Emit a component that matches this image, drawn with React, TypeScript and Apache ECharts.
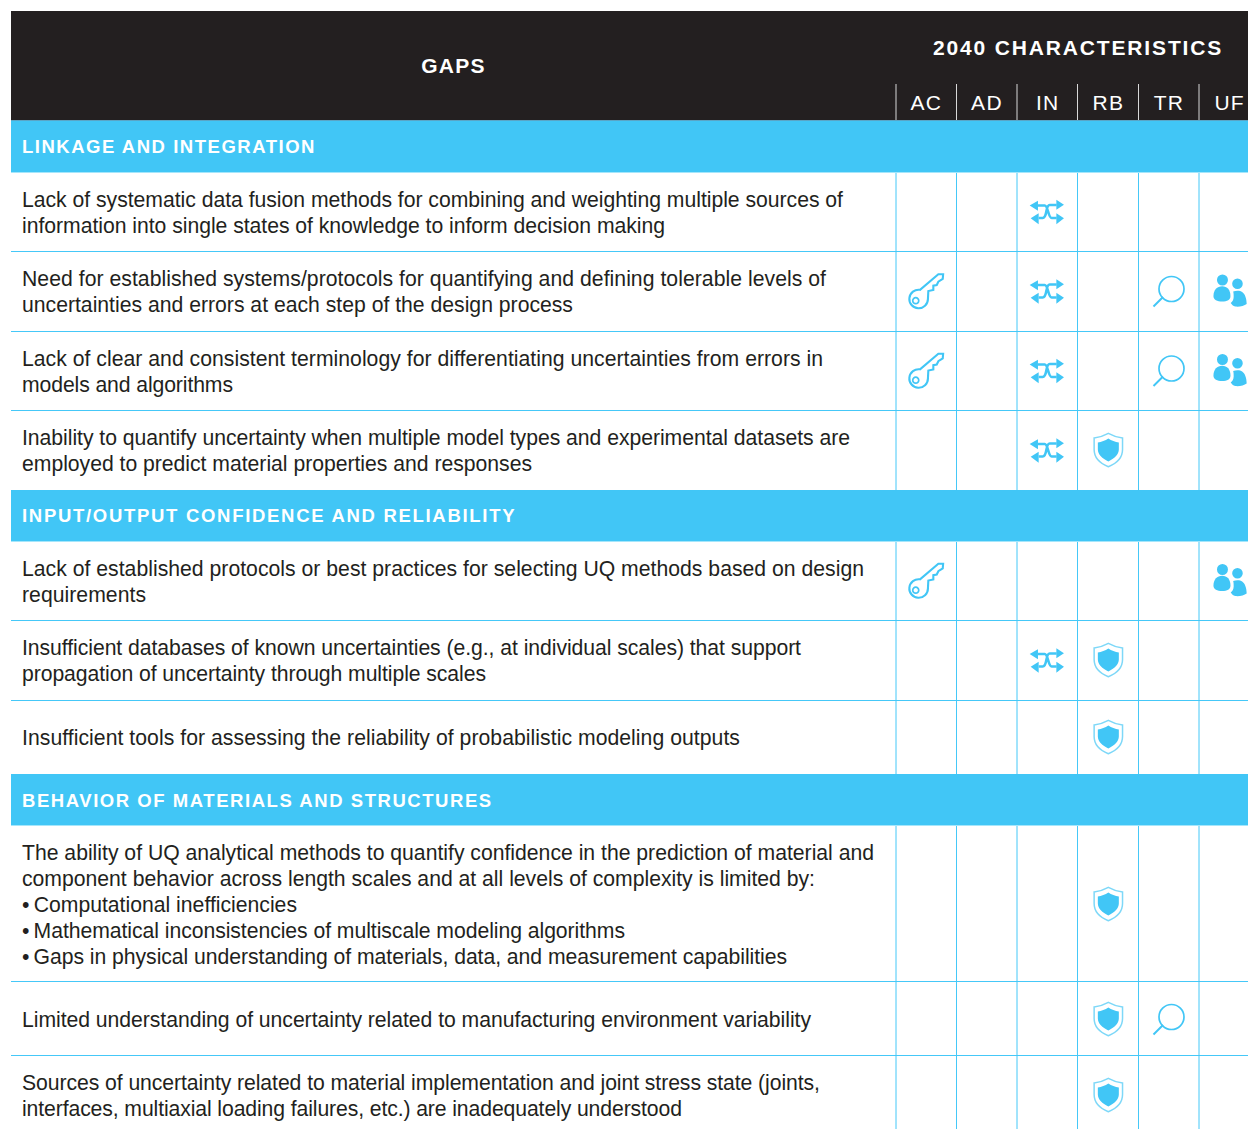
import React, { useEffect, useRef } from "react";
import * as echarts from "echarts";

const CHARACTERISTICS = ["AC", "AD", "IN", "RB", "TR", "UF"];
const HEADER_LEFT = "GAPS";
const HEADER_RIGHT = "2040 CHARACTERISTICS";

const SECTION_1 = "LINKAGE AND INTEGRATION";
const SECTION_2 = "INPUT/OUTPUT CONFIDENCE AND RELIABILITY";
const SECTION_3 = "BEHAVIOR OF MATERIALS AND STRUCTURES";

// each row: text lines, and the characteristics it is marked with
const ROWS_1 = [
  { lines: ["Lack of systematic data fusion methods for combining and weighting multiple sources of", "information into single states of knowledge to inform decision making"], marks: ["IN"] },
  { lines: ["Need for established systems/protocols for quantifying and defining tolerable levels of", "uncertainties and errors at each step of the design process"], marks: ["AC", "IN", "TR", "UF"] },
  { lines: ["Lack of clear and consistent terminology for differentiating uncertainties from errors in", "models and algorithms"], marks: ["AC", "IN", "TR", "UF"] },
  { lines: ["Inability to quantify uncertainty when multiple model types and experimental datasets are", "employed to predict material properties and responses"], marks: ["IN", "RB"] },
];
const ROWS_2 = [
  { lines: ["Lack of established protocols or best practices for selecting UQ methods based on design", "requirements"], marks: ["AC", "UF"] },
  { lines: ["Insufficient databases of known uncertainties (e.g., at individual scales) that support", "propagation of uncertainty through multiple scales"], marks: ["IN", "RB"] },
  { lines: ["Insufficient tools for assessing the reliability of probabilistic modeling outputs"], marks: ["RB"] },
];
const ROWS_3 = [
  { lines: ["The ability of UQ analytical methods to quantify confidence in the prediction of material and", "component behavior across length scales and at all levels of complexity is limited by:", "•\u2009Computational inefficiencies", "•\u2009Mathematical inconsistencies of multiscale modeling algorithms", "•\u2009Gaps in physical understanding of materials, data, and measurement capabilities"], marks: ["RB"] },
  { lines: ["Limited understanding of uncertainty related to manufacturing environment variability"], marks: ["RB", "TR"] },
  { lines: ["Sources of uncertainty related to material implementation and joint stress state (joints,", "interfaces, multiaxial loading failures, etc.) are inadequately understood"], marks: ["RB"] },
];

// layout (pixels)
const W = 1248, H = 1129;
const LEFT = 11, TOP = 11, HEADER_BOTTOM = 120;
const GRID_LEFT = 896, COL_W = 60.67, TEXT_X = 22, LINE_H = 26;
const COLUMN_LINES = [896, 956.5, 1017, 1077.5, 1138.5, 1199];
const CHART_W = GRID_LEFT + COL_W * CHARACTERISTICS.length;
const SECTION_HEIGHTS = [52, 51, 51];
const SECTION_TEXT_Y = [26, 25, 26];
const HEIGHTS_1 = [79, 80, 79, 80];
const HEIGHTS_2 = [79, 80, 74];
const HEIGHTS_3 = [156, 74, 80];
const TEXT_NUDGE = [1, 0, 1, 0, 1, 0, 0, 1, 1, 0];
const ICON_NUDGE = [0, 0, 0, 0, 0, 0, 0, 1, 1, 0];
// right edge of each body line, in reading order, for its tracking
const LINE_RIGHT = [843, 665, 826, 573, 823, 233, 850, 532, 864, 146, 801, 486, 740, 874, 815, 297, 625, 787, 811, 820, 682];
const INK = "#231f20", BLUE = "#41c6f6", LINE = "#45c8f8";
const BODY_FONT = "Liberation Sans";
const BODY_SIZE = 21.2;

const ICON_KIND: Record<string, string> = { AC: "key", IN: "shuffle", RB: "shield", TR: "lens", UF: "people" };

type Part = { d: string; fill?: string; stroke?: string; lw?: number };
const ICONS: Record<string, { w: number; h: number; parts: Part[] }> = {
  key: {
    w: 34, h: 36,
    parts: [
      { d: "M29 1.3 L33.8 1.3 L33.4 6 L29 8.7 L27.4 12 L24 12.7 L24 17 L19 18 L18.6 26 A9.3 9.3 0 1 1 10.7 16.8 Z", stroke: BLUE, lw: 2.1, fill: "none" },
      { d: "M9.4 27.7 A3 3 0 1 1 3.4 27.7 A3 3 0 1 1 9.4 27.7 Z", stroke: BLUE, lw: 1.7, fill: "none" },
    ],
  },
  shuffle: {
    w: 36, h: 22,
    parts: [
      { d: "M8 5 L15 5 C18.5 5 18.5 17.5 22 17.5 L27 17.5 M27 4.5 L20 4.5 C15.5 4.5 18 17.5 13 17.5 L9 17.5", stroke: BLUE, lw: 2.6, fill: "none" },
      { d: "M0 5 L8.3 0.3 L8.3 10.3 Z M34.3 4.3 L26.7 -0.7 L26.7 9.3 Z M1 17.7 L9 12.7 L9 23.7 Z M34.3 17.7 L26.7 12.7 L26.7 23.7 Z", fill: BLUE },
    ],
  },
  shield: {
    w: 30, h: 35,
    parts: [
      { d: "M15 0.8 C19 3 25 5 29.2 5.5 L29.2 17 C29.2 25 23 31 15 34.2 C7 31 0.8 25 0.8 17 L0.8 5.5 C5 5 11 3 15 0.8 Z", stroke: "#7ed8f8", lw: 1.5, fill: "none" },
      { d: "M15 6 C18 8 22 9.5 25.5 10 L25.5 17 C25.5 22 21 26 15 29 C9 26 4.5 22 4.5 17 L4.5 10 C8 9.5 12 8 15 6 Z", fill: BLUE },
    ],
  },
  lens: {
    w: 33, h: 29,
    parts: [
      { d: "M31.5 12.5 A12.5 12.5 0 1 1 6.5 12.5 A12.5 12.5 0 1 1 31.5 12.5 Z", stroke: BLUE, lw: 1.7, fill: "none" },
      { d: "M10.5 20.5 L1 30", stroke: BLUE, lw: 2, fill: "none" },
    ],
  },
  people: {
    w: 33, h: 32,
    parts: [
      { d: "M14.8 5 A5.5 5.5 0 1 1 3.8 5 A5.5 5.5 0 1 1 14.8 5 Z M29.6 8.7 A5.3 5.3 0 1 1 19 8.7 A5.3 5.3 0 1 1 29.6 8.7 Z", fill: BLUE },
      { d: "M0.3 21 C0.3 15 4 11.3 9 11.3 C14 11.3 17.3 15 17.3 21 C17.3 25 14 26.5 9 26.5 C4 26.5 0.3 25 0.3 21 Z", fill: BLUE },
      { d: "M20 16.5 C23 15.5 27 15.5 29 17 C32 19 33.5 24 33.5 29 C31 31 26 32 22 31.5 C20 31 18.5 29.5 17.5 28 C19 27 20.5 25 20.5 22 C20.5 20 20.5 18 20 16.5 Z", fill: BLUE },
    ],
  },
};

function App() {
  const ref = useRef<HTMLDivElement>(null);
  useEffect(() => {
    document.body.style.margin = "0";
    const chart = echarts.init(ref.current!, null, { renderer: "svg" });
    const graphic: any[] = [];
    const rect = (x: number, y: number, w: number, h: number, fill: string) =>
      graphic.push({ type: "rect", shape: { x, y, width: w, height: h }, style: { fill } });
    const vline = (x: number, y1: number, y2: number, stroke: string, lw = 1) =>
      graphic.push({ type: "line", shape: { x1: x, y1, x2: x, y2 }, style: { stroke, lineWidth: lw } });
    const hline = (y: number, stroke = LINE) =>
      graphic.push({ type: "line", shape: { x1: LEFT, y1: y, x2: CHART_W, y2: y }, style: { stroke, lineWidth: 1 } });
    const text = (x: number, y: number, t: string, size: number, fill: string, weight: any = "normal", align = "left") =>
      graphic.push({ type: "text", x, y, style: { text: t, fontFamily: BODY_FONT, fontSize: size, fontWeight: weight, fill, align, verticalAlign: "middle" } });

    // header
    rect(LEFT, TOP, CHART_W - LEFT, HEADER_BOTTOM - TOP, INK);
    text(453.5, 65, HEADER_LEFT, 21, "#fff", "bold", "center");
    text(1078, 47.5, HEADER_RIGHT, 21, "#fff", "bold", "center");
    CHARACTERISTICS.forEach((c, i) => {
      vline(COLUMN_LINES[i], 84, HEADER_BOTTOM, "#d8d8d8");
      text(GRID_LEFT + (i + 0.5) * COL_W, 102, c, 21, "#fff", "normal", "center");
    });

    const marks: Record<string, number[][]> = { key: [], shuffle: [], shield: [], lens: [], people: [] };
    const bodyLines: Record<string, number> = {};
    let y = HEADER_BOTTOM;
    let rowNo = 0;
    let lineNo = 0;
    const sections: [string, any[], number[]][] = [
      [SECTION_1, ROWS_1, HEIGHTS_1],
      [SECTION_2, ROWS_2, HEIGHTS_2],
      [SECTION_3, ROWS_3, HEIGHTS_3],
    ];
    sections.forEach(([title, rows, heights], si) => {
      const top = y;
      const bodyTop = top + SECTION_HEIGHTS[si];
      let rowY = bodyTop;
      rows.forEach((row, ri) => {
        const h = heights[ri];
        const cy = rowY + h / 2;
        row.lines.forEach((l: string, li: number) => {
          text(TEXT_X, cy + TEXT_NUDGE[rowNo] + (li - (row.lines.length - 1) / 2) * LINE_H, l, BODY_SIZE, INK);
          bodyLines[l] = LINE_RIGHT[lineNo++];
        });
        row.marks.forEach((m: string) => {
          marks[ICON_KIND[m]].push([CHARACTERISTICS.indexOf(m), cy + ICON_NUDGE[rowNo]]);
        });
        rowY += h;
        rowNo++;
        if (ri < rows.length - 1) hline(rowY + 0.5);
      });
      for (let i = 0; i < CHARACTERISTICS.length; i++) vline(COLUMN_LINES[i], bodyTop, rowY, LINE);
      rect(LEFT, top, CHART_W - LEFT, SECTION_HEIGHTS[si], BLUE);
      hline(bodyTop + 0.5, "#a5e6fb");
      text(TEXT_X, top + SECTION_TEXT_Y[si], title, 18.5, "#fff", "bold");
      y = rowY;
    });
    hline(HEADER_BOTTOM + 0.5, "#5aa5c6");

    const series = Object.keys(marks).map((kind) => ({
      type: "custom",
      name: kind,
      coordinateSystem: "cartesian2d",
      clip: false,
      z: 5,
      data: marks[kind],
      renderItem: (_: any, api: any) => {
        const [px, py] = api.coord([api.value(0), api.value(1)]);
        const icon = ICONS[kind];
        return {
          type: "group",
          x: px - icon.w / 2,
          y: py - icon.h / 2,
          children: icon.parts.map((p) => ({
            type: "path",
            shape: { pathData: p.d },
            style: { fill: p.fill ?? "none", stroke: p.stroke ?? "none", lineWidth: p.lw ?? 0 },
          })),
        };
      },
    }));

    chart.setOption({
      animation: false,
      backgroundColor: "#fff",
      grid: { left: GRID_LEFT, top: 0, width: COL_W * CHARACTERISTICS.length, height: H },
      xAxis: { type: "category", data: CHARACTERISTICS, show: false },
      yAxis: { type: "value", min: 0, max: H, inverse: true, show: false },
      graphic: { elements: graphic },
      series,
    });

    // tracking of the headings and body lines, as in the print original
    const track: Record<string, string> = {
      [HEADER_LEFT]: "1.3px", [HEADER_RIGHT]: "1.85px",
      [SECTION_1]: "1.52px", [SECTION_2]: "1.7px", [SECTION_3]: "1.55px",
    };
    CHARACTERISTICS.forEach((c) => (track[c] = "1.3px"));
    ref.current!.querySelectorAll("text").forEach((t) => {
      const content = t.textContent || "";
      const s = track[content];
      if (s) t.setAttribute("letter-spacing", s);
      const right = bodyLines[content];
      if (right != null) {
        const extra = (right - TEXT_X - (t as SVGTextElement).getComputedTextLength()) / Math.max(1, content.length - 1);
        t.setAttribute("letter-spacing", extra.toFixed(3) + "px");
      }
    });
    return () => chart.dispose();
  }, []);
  return (
    <div style={{ width: W, height: H, overflow: "hidden" }}>
      <div ref={ref} style={{ width: CHART_W, height: H }} />
    </div>
  );
}

export default App;
